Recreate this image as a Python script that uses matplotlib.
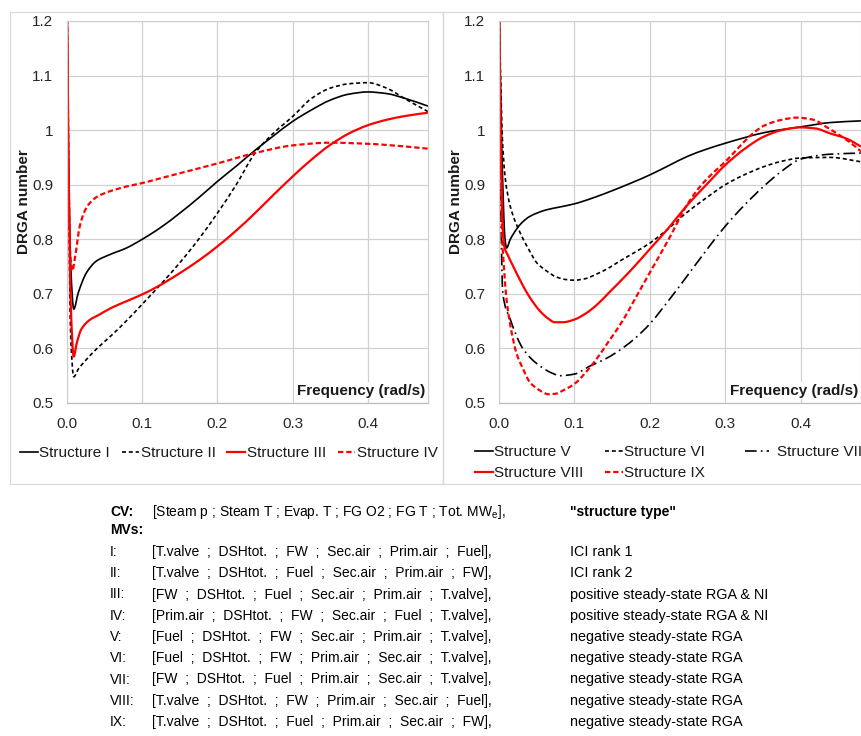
import matplotlib
matplotlib.use("Agg")
import matplotlib.pyplot as plt
from matplotlib.patches import Rectangle, PathPatch
from matplotlib.path import Path
from matplotlib.lines import Line2D
from matplotlib.ticker import FixedLocator, FuncFormatter

plt.rcParams['font.family'] = ['Liberation Sans', 'DejaVu Sans']
plt.rcParams['mathtext.fontset'] = 'custom'
plt.rcParams['mathtext.rm'] = 'Liberation Sans'

# ---- DRGA number vs. frequency, structures I-IV ----
x_I = [0.0, 0.002, 0.005, 0.009, 0.015, 0.026, 0.039, 0.057, 0.079, 0.1, 0.125, 0.15,
       0.175, 0.2, 0.225, 0.25, 0.275, 0.3, 0.325, 0.35, 0.375, 0.4, 0.425, 0.45, 0.48]
y_I = [1.25, 0.95, 0.75, 0.672, 0.702, 0.739, 0.760, 0.772, 0.784, 0.800, 0.822, 0.848,
       0.876, 0.906, 0.934, 0.963, 0.990, 1.016, 1.037, 1.055, 1.066, 1.070, 1.067, 1.058, 1.044]

x_II = [0.0, 0.002, 0.005, 0.009, 0.015, 0.026, 0.04, 0.06, 0.08, 0.1, 0.125, 0.15, 0.175,
        0.2, 0.225, 0.25, 0.275, 0.3, 0.325, 0.35, 0.375, 0.4, 0.425, 0.45, 0.48]
y_II = [1.25, 0.90, 0.62, 0.548, 0.562, 0.580, 0.600, 0.625, 0.652, 0.681, 0.718, 0.757, 0.800,
        0.848, 0.900, 0.958, 0.995, 1.025, 1.058, 1.077, 1.085, 1.087, 1.077, 1.057, 1.034]

x_III = [0.0, 0.002, 0.005, 0.009, 0.013, 0.019, 0.03, 0.043, 0.06, 0.08, 0.1, 0.12, 0.15,
         0.175, 0.2, 0.225, 0.25, 0.275, 0.3, 0.325, 0.35, 0.375, 0.4, 0.425, 0.45, 0.48]
y_III = [1.25, 0.95, 0.68, 0.585, 0.610, 0.635, 0.652, 0.662, 0.675, 0.687, 0.699, 0.713, 0.738,
         0.761, 0.787, 0.816, 0.848, 0.882, 0.915, 0.946, 0.973, 0.994, 1.009, 1.019, 1.026, 1.032]

x_IV = [0.0, 0.002, 0.004, 0.007, 0.011, 0.017, 0.023, 0.03, 0.04, 0.057, 0.08, 0.1, 0.125,
        0.15, 0.2, 0.25, 0.3, 0.35, 0.4, 0.45, 0.48]
y_IV = [1.25, 0.95, 0.78, 0.742, 0.770, 0.824, 0.850, 0.866, 0.878, 0.888, 0.897, 0.903, 0.912,
        0.921, 0.939, 0.958, 0.972, 0.977, 0.975, 0.970, 0.966]

# ---- DRGA number vs. frequency, structures V-IX ----
x_V = [0.0, 0.004, 0.008, 0.010, 0.015, 0.023, 0.03, 0.041, 0.063, 0.08, 0.1, 0.125, 0.15,
       0.175, 0.2, 0.225, 0.25, 0.275, 0.3, 0.325, 0.35, 0.375, 0.4, 0.44, 0.48]
y_V = [1.25, 0.95, 0.80, 0.784, 0.800, 0.818, 0.830, 0.842, 0.854, 0.859, 0.865, 0.876, 0.889,
       0.903, 0.918, 0.935, 0.952, 0.965, 0.976, 0.986, 0.995, 1.001, 1.006, 1.014, 1.017]

x_VI = [0.0, 0.004, 0.008, 0.015, 0.028, 0.04, 0.05, 0.063, 0.076, 0.09, 0.1, 0.115, 0.129,
        0.145, 0.16, 0.18, 0.2, 0.225, 0.248, 0.275, 0.3, 0.325, 0.351, 0.375, 0.4, 0.44, 0.48]
y_VI = [1.25, 1.00, 0.915, 0.860, 0.812, 0.780, 0.757, 0.742, 0.731, 0.726, 0.725, 0.728, 0.736,
        0.747, 0.760, 0.776, 0.793, 0.820, 0.848, 0.876, 0.900, 0.918, 0.933, 0.943, 0.949, 0.950, 0.942]

x_VII = [0.0, 0.002, 0.005, 0.015, 0.032, 0.054, 0.07, 0.081, 0.1, 0.121, 0.14, 0.156, 0.18,
         0.2, 0.225, 0.248, 0.275, 0.3, 0.325, 0.351, 0.375, 0.4, 0.44, 0.48]
y_VII = [1.25, 0.90, 0.702, 0.653, 0.599, 0.568, 0.555, 0.550, 0.553, 0.568, 0.580, 0.593, 0.618,
         0.645, 0.688, 0.730, 0.780, 0.824, 0.862, 0.897, 0.925, 0.947, 0.956, 0.958]

x_VIII = [0.0, 0.002, 0.005, 0.007, 0.012, 0.019, 0.028, 0.037, 0.045, 0.054, 0.064, 0.074,
          0.085, 0.1, 0.115, 0.129, 0.145, 0.165, 0.18, 0.2, 0.225, 0.248, 0.275, 0.3, 0.325,
          0.351, 0.375, 0.4, 0.42, 0.439, 0.46, 0.48]
y_VIII = [1.25, 1.00, 0.82, 0.787, 0.770, 0.750, 0.725, 0.702, 0.685, 0.669, 0.656, 0.648,
          0.648, 0.653, 0.664, 0.679, 0.701, 0.729, 0.751, 0.782, 0.821, 0.860, 0.900, 0.936, 0.965,
          0.988, 1.000, 1.005, 1.003, 0.994, 0.985, 0.970]

x_IX = [0.0, 0.002, 0.004, 0.007, 0.010, 0.016, 0.023, 0.032, 0.041, 0.053, 0.066, 0.075, 0.085,
        0.1, 0.115, 0.129, 0.145, 0.165, 0.18, 0.2, 0.225, 0.248, 0.265, 0.284, 0.3, 0.319, 0.335,
        0.351, 0.375, 0.395, 0.417, 0.435, 0.448, 0.465, 0.48]
y_IX = [1.25, 1.00, 0.812, 0.740, 0.690, 0.635, 0.592, 0.562, 0.538, 0.524, 0.516, 0.517, 0.523,
        0.535, 0.556, 0.580, 0.612, 0.653, 0.690, 0.739, 0.800, 0.860, 0.894, 0.922, 0.942, 0.970,
        0.992, 1.008, 1.019, 1.023, 1.019, 1.005, 0.994, 0.978, 0.961]

x_ticks = [0.0, 0.1, 0.2, 0.3, 0.4]
y_ticks = [0.5, 0.6, 0.7, 0.8, 0.9, 1.0, 1.1, 1.2]

# ---- structure table ----
cv_label = "CV:"
cv_text = r"[Steam p ; Steam T ; Evap. T ; FG O2 ; FG T ; Tot. MW$_{\mathrm{e}}$],"
type_header = '"structure type"'
mv_header = "MVs:"
row_labels = ["I:", "II:", "III:", "IV:", "V:", "VI:", "VII:", "VIII:", "IX:"]
row_mvs = [
    "[T.valve  ;  DSHtot.  ;  FW  ;  Sec.air  ;  Prim.air  ;  Fuel],",
    "[T.valve  ;  DSHtot.  ;  Fuel  ;  Sec.air  ;  Prim.air  ;  FW],",
    "[FW  ;  DSHtot.  ;  Fuel  ;  Sec.air  ;  Prim.air  ;  T.valve],",
    "[Prim.air  ;  DSHtot.  ;  FW  ;  Sec.air  ;  Fuel  ;  T.valve],",
    "[Fuel  ;  DSHtot.  ;  FW  ;  Sec.air  ;  Prim.air  ;  T.valve],",
    "[Fuel  ;  DSHtot.  ;  FW  ;  Prim.air  ;  Sec.air  ;  T.valve],",
    "[FW  ;  DSHtot.  ;  Fuel  ;  Prim.air  ;  Sec.air  ;  T.valve],",
    "[T.valve  ;  DSHtot.  ;  FW  ;  Prim.air  ;  Sec.air  ;  Fuel],",
    "[T.valve  ;  DSHtot.  ;  Fuel  ;  Prim.air  ;  Sec.air  ;  FW],",
]
row_types = ["ICI rank 1", "ICI rank 2",
             "positive steady-state RGA & NI", "positive steady-state RGA & NI",
             "negative steady-state RGA", "negative steady-state RGA",
             "negative steady-state RGA", "negative steady-state RGA",
             "negative steady-state RGA"]

W, H = 862, 736
fig = plt.figure(figsize=(W / 100, H / 100), dpi=100)
fig.patch.set_facecolor('white')


def fx(px):
    return px / W


def fy(py):
    return 1 - py / H


# chart-area frames
for (x0, y0, x1, y1) in [(10, 12, 443, 484), (443, 12, 870, 484)]:
    fig.add_artist(Rectangle((fx(x0), fy(y1)), fx(x1 - x0), (y1 - y0) / H,
                             transform=fig.transFigure, fill=False,
                             edgecolor='#d9d9d9', linewidth=0.9))

RED = '#ff0000'
black_dash = (0, (2.4, 1.7))
red_dash = (0, (2.4, 1.3))
dash_dot = (0, (7, 2.5, 1, 2.5))


def smooth_path(xs, ys):
    """Smoothed-line path: monotone cubic Hermite segments written as Beziers."""
    n = len(xs)
    h = [xs[i + 1] - xs[i] for i in range(n - 1)]
    d = [(ys[i + 1] - ys[i]) / h[i] for i in range(n - 1)]
    m = [0.0] * n
    m[0], m[-1] = d[0], d[-1]
    for i in range(1, n - 1):
        if d[i - 1] * d[i] <= 0:
            m[i] = 0.0
        else:
            w1 = 2 * h[i] + h[i - 1]
            w2 = h[i] + 2 * h[i - 1]
            m[i] = (w1 + w2) / (w1 / d[i - 1] + w2 / d[i])
    verts = [(xs[0], ys[0])]
    codes = [Path.MOVETO]
    for i in range(n - 1):
        verts += [(xs[i] + h[i] / 3, ys[i] + m[i] * h[i] / 3),
                  (xs[i + 1] - h[i] / 3, ys[i + 1] - m[i + 1] * h[i] / 3),
                  (xs[i + 1], ys[i + 1])]
        codes += [Path.CURVE4] * 3
    return Path(verts, codes)


def draw_series(ax, xs, ys, color, lw, ls, label):
    ax.add_patch(PathPatch(smooth_path(xs, ys), fill=False, edgecolor=color,
                           linewidth=lw, linestyle=ls, capstyle='butt',
                           joinstyle='round'))
    return Line2D([], [], color=color, lw=lw, ls=ls, label=label)


def style_axes(ax):
    ax.set_xlim(0, 0.48)
    ax.set_ylim(0.5, 1.2)
    ax.xaxis.set_major_locator(FixedLocator(x_ticks))
    ax.yaxis.set_major_locator(FixedLocator(y_ticks))
    ax.xaxis.set_major_formatter(FuncFormatter(lambda v, p: f"{v:.1f}"))
    ax.yaxis.set_major_formatter(FuncFormatter(lambda v, p: f"{v:g}"))
    ax.grid(True, color='#d0d0d0', linewidth=0.9)
    ax.set_axisbelow(True)
    for s in ax.spines.values():
        s.set_color('#d0d0d0')
        s.set_linewidth(0.9)
    ax.spines['bottom'].set_color('#bfbfbf')
    ax.tick_params(length=0, labelsize=11, colors='#262626', pad=10)
    ax.set_ylabel("DRGA number", fontsize=11, fontweight='bold', color='#1a1a1a')
    ax.yaxis.set_label_coords(-0.1, 0.526)
    ax.text(0.992, 0.032, "Frequency (rad/s)", transform=ax.transAxes, ha='right',
            va='center', fontsize=11, fontweight='bold', color='#1a1a1a',
            bbox=dict(facecolor='white', edgecolor='none', pad=1))


axL = fig.add_axes([fx(67), fy(403), fx(428 - 67), (403 - 21) / H])
axR = fig.add_axes([fx(499), fy(403), fx(861 - 499), (403 - 21) / H])
style_axes(axL)
style_axes(axR)

hL = [
    draw_series(axL, x_I, y_I, 'black', 1.2, '-', "Structure I"),
    draw_series(axL, x_II, y_II, 'black', 1.2, black_dash, "Structure II"),
    draw_series(axL, x_III, y_III, RED, 1.6, '-', "Structure III"),
    draw_series(axL, x_IV, y_IV, RED, 1.6, red_dash, "Structure IV"),
]
hR = [
    draw_series(axR, x_V, y_V, 'black', 1.2, '-', "Structure V"),
    draw_series(axR, x_VI, y_VI, 'black', 1.2, black_dash, "Structure VI"),
    draw_series(axR, x_VII, y_VII, 'black', 1.2, dash_dot, "Structure VII"),
    draw_series(axR, x_VIII, y_VIII, RED, 1.6, '-', "Structure VIII"),
    draw_series(axR, x_IX, y_IX, RED, 1.6, red_dash, "Structure IX"),
]

leg_kw = dict(frameon=False, fontsize=11, handlelength=1.15, handletextpad=0.12,
              labelspacing=0.45, borderpad=0, borderaxespad=0)
legends = [fig.legend(handles=hL, loc='center left', bbox_to_anchor=(fx(20), fy(453)),
                      ncol=4, columnspacing=0.75, **leg_kw)]
# right-hand legend: three columns (V/VIII, VI/IX, VII)
for col, x0 in [([hR[0], hR[3]], 475), ([hR[1], hR[4]], 605)]:
    legends.append(fig.legend(handles=col, loc='upper left',
                              bbox_to_anchor=(fx(x0), fy(445)), **leg_kw))
kw7 = dict(leg_kw, handlelength=1.6, handletextpad=0.5)
legends.append(fig.legend(handles=[hR[2]], loc='upper left',
                          bbox_to_anchor=(fx(745), fy(445)), **kw7))
for leg in legends:
    for t in leg.get_texts():
        t.set_color('#1a1a1a')

# table of control structures
TFS = 10
x_lab, x_mv, x_type = 110, 152, 570
fig.text(fx(x_lab), fy(512), cv_label, fontsize=TFS, fontweight='bold', va='center')
fig.text(fx(x_mv), fy(512), cv_text, fontsize=TFS, va='center')
fig.text(fx(x_type), fy(512), type_header, fontsize=TFS, fontweight='bold', va='center')
fig.text(fx(x_lab), fy(530), mv_header, fontsize=TFS, fontweight='bold', va='center')
for i, (lab, mv, typ) in enumerate(zip(row_labels, row_mvs, row_types)):
    yy = 552 + i * 21.25
    fig.text(fx(x_lab), fy(yy), lab, fontsize=TFS, va='center')
    fig.text(fx(x_mv), fy(yy), mv, fontsize=TFS, va='center')
    fig.text(fx(x_type), fy(yy), typ, fontsize=10.4, va='center')

fig.savefig("out.png", dpi=100, facecolor='white')
